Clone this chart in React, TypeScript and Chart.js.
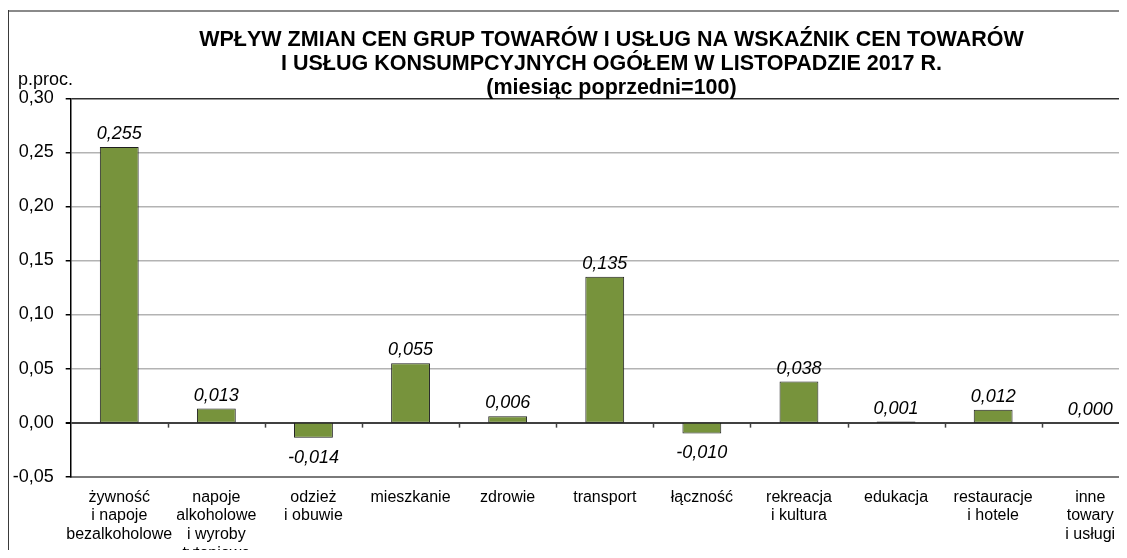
import React, { useEffect, useRef } from 'react';
import { Chart, registerables } from 'chart.js';

Chart.register(...registerables);

const categories: (string | string[])[] = [
  ['żywność', 'i napoje', 'bezalkoholowe'],
  ['napoje', 'alkoholowe', 'i wyroby', 'tytoniowe'],
  ['odzież', 'i obuwie'],
  'mieszkanie',
  'zdrowie',
  'transport',
  'łączność',
  ['rekreacja', 'i kultura'],
  'edukacja',
  ['restauracje', 'i hotele'],
  ['inne', 'towary', 'i usługi'],
];

const values = [0.255, 0.013, -0.014, 0.055, 0.006, 0.135, -0.01, 0.038, 0.001, 0.012, 0.0];

const yMin = -0.05;
const yMax = 0.3;
const yStep = 0.05;

const titleLines = [
  'WPŁYW ZMIAN CEN GRUP TOWARÓW I USŁUG NA WSKAŹNIK CEN TOWARÓW',
  'I USŁUG KONSUMPCYJNYCH OGÓŁEM W LISTOPADZIE 2017 R.',
  '(miesiąc poprzedni=100)',
];
const yUnit = 'p.proc.';

const FONT = '"Liberation Sans", Arial, Helvetica, sans-serif';
const CANVAS_W = 1180;
const CANVAS_H = 570;

const fmt = (v: number, d: number) => {
  const x = Math.abs(v) < 1e-9 ? 0 : v;
  return x.toFixed(d).replace('.', ',');
};

const decorPlugin = {
  id: 'decor',
  beforeDraw(chart: any) {
    const ctx = chart.ctx;
    ctx.save();
    ctx.fillStyle = '#ffffff';
    ctx.fillRect(0, 0, chart.width, chart.height);
    ctx.strokeStyle = '#8a8a8a';
    ctx.lineWidth = 2;
    ctx.beginPath();
    ctx.moveTo(0, 3);
    ctx.lineTo(chart.width, 3);
    ctx.stroke();
    ctx.strokeStyle = '#3a3a3a';
    ctx.lineWidth = 1;
    ctx.beginPath();
    ctx.moveTo(0.5, 2);
    ctx.lineTo(0.5, chart.height);
    ctx.stroke();
    ctx.restore();
  },
  afterDatasetsDraw(chart: any) {
    const ctx = chart.ctx;
    const xs = chart.scales.x;
    const ys = chart.scales.y;
    ctx.save();
    // ticks on the zero line at category boundaries
    const zeroY = ys.getPixelForValue(0);
    const n = categories.length;
    const cw = (xs.right - xs.left) / n;
    ctx.strokeStyle = '#404040';
    ctx.lineWidth = 1.5;
    for (let i = 1; i < n; i++) {
      const x = Math.round(xs.left + i * cw) + 0.5;
      ctx.beginPath();
      ctx.moveTo(x, zeroY);
      ctx.lineTo(x, zeroY + 5);
      ctx.stroke();
    }
    // data labels
    const meta = chart.getDatasetMeta(0);
    ctx.fillStyle = '#000';
    ctx.font = `italic 18px ${FONT}`;
    ctx.textAlign = 'center';
    ctx.textBaseline = 'alphabetic';
    meta.data.forEach((el: any, i: number) => {
      const v = values[i];
      const txt = fmt(v, 3);
      if (v < 0) {
        ctx.fillText(txt, el.x, el.y + 25);
      } else {
        ctx.fillText(txt, el.x, el.y - 8);
      }
    });
    // title
    ctx.font = `bold 21.5px ${FONT}`;
    titleLines.forEach((line, i) => {
      ctx.fillText(line, 603.5, 37.5 + i * 24);
    });
    // unit label
    ctx.font = `18px ${FONT}`;
    ctx.textAlign = 'left';
    ctx.fillText(yUnit, 10, 77);
    ctx.restore();
  },
};

export default function App() {
  const ref = useRef<HTMLCanvasElement | null>(null);

  useEffect(() => {
    document.documentElement.style.overflow = 'hidden';
    document.body.style.overflow = 'hidden';
    const canvas = ref.current;
    if (!canvas) return;
    const chart = new Chart(canvas, {
      type: 'bar',
      data: {
        labels: categories,
        datasets: [
          {
            data: values,
            backgroundColor: '#77933c',
            borderColor: '#1e1e1e',
            borderWidth: 1,
            borderSkipped: false,
            barPercentage: 0.4,
            categoryPercentage: 1.0,
          },
        ],
      },
      options: {
        responsive: false,
        animation: false,
        layout: { padding: { left: 0, right: CANVAS_W - 1130.8, top: 90.3, bottom: 1 } },
        plugins: {
          legend: { display: false },
          title: { display: false },
          tooltip: { enabled: false },
        },
        scales: {
          x: {
            grid: { color: 'transparent', drawTicks: false, offset: true },
            border: { color: '#7a7a7a', width: 2 },
            ticks: {
              autoSkip: false,
              maxRotation: 0,
              minRotation: 0,
              padding: 11,
              color: '#000',
              font: { family: FONT, size: 16, lineHeight: 1.18 },
            },
            afterFit(scale: any) {
              scale.height = CANVAS_H - 1 - 468.7;
            },
          },
          y: {
            min: yMin,
            max: yMax,
            ticks: {
              stepSize: yStep,
              padding: 12,
              color: '#000',
              font: { family: FONT, size: 18 },
              callback: (v: any) => fmt(Number(v), 2),
            },
            grid: {
              color: (c: any) => {
                const v = c.tick ? c.tick.value : 0;
                if (Math.abs(v) < 1e-9) return '#404040';
                if (Math.abs(v - yMax) < 1e-9) return '#303030';
                if (Math.abs(v - yMin) < 1e-9) return '#7a7a7a';
                return '#b3b3b3';
              },
              lineWidth: (c: any) => {
                const v = c.tick ? c.tick.value : 0;
                if (Math.abs(v) < 1e-9) return 2;
                return 1.5;
              },
              tickLength: 5,
              tickColor: '#000',
            },
            border: { color: '#000', width: 1.5 },
            afterFit(scale: any) {
              scale.width = 62.7;
            },
          },
        },
      },
      plugins: [decorPlugin],
    } as any);
    return () => chart.destroy();
  }, []);

  return (
    <div style={{ width: 1119, height: 550, overflow: 'hidden', marginBottom: -8, position: 'relative' }}>
      <canvas ref={ref} width={CANVAS_W} height={CANVAS_H} style={{ display: 'block' }} />
    </div>
  );
}
